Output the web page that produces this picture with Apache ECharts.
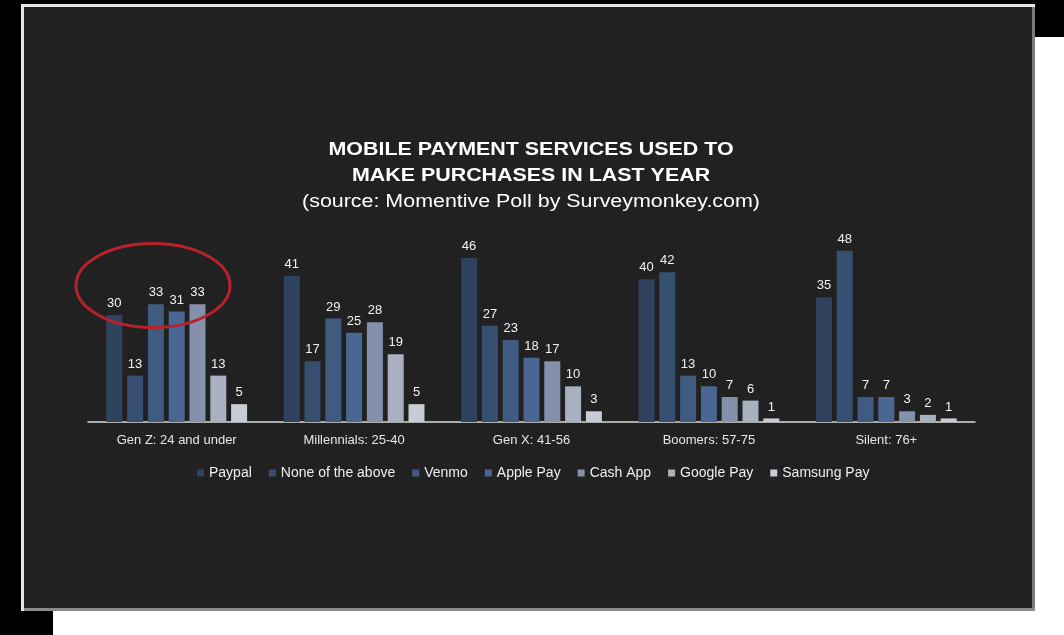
<!DOCTYPE html>
<html>
<head>
<meta charset="utf-8">
<script src="https://cdn.jsdelivr.net/npm/echarts@6/dist/echarts.min.js"></script>
<style>
  html, body { margin: 0; padding: 0; background: #ffffff; }
  #chart { width: 1064px; height: 635px; }
</style>
</head>
<body>
<div id="chart"></div>
<script>
const categories = ['Gen Z: 24 and under', 'Millennials: 25-40', 'Gen X: 41-56', 'Boomers: 57-75', 'Silent: 76+'];
const seriesNames = ['Paypal', 'None of the above', 'Venmo', 'Apple Pay', 'Cash App', 'Google Pay', 'Samsung Pay'];
const paypal = [30, 41, 46, 40, 35];
const noneOfTheAbove = [13, 17, 27, 42, 48];
const venmo = [33, 29, 23, 13, 7];
const applePay = [31, 25, 18, 10, 7];
const cashApp = [33, 28, 17, 7, 3];
const googlePay = [13, 19, 10, 6, 2];
const samsungPay = [5, 5, 3, 1, 1];
const titleLines = ['MOBILE PAYMENT SERVICES USED TO', 'MAKE PURCHASES IN LAST YEAR'];
const subtitle = '(source: Momentive Poll by Surveymonkey.com)';

const seriesData = [paypal, noneOfTheAbove, venmo, applePay, cashApp, googlePay, samsungPay];
const colors = ['#2f425e', '#374f70', '#405b80', '#4a6794', '#8591ab', '#a9b1c1', '#c8ccd5'];

const chart = echarts.init(document.getElementById('chart'), null, { renderer: 'canvas' });

const series = seriesNames.map((name, i) => ({
  name: name,
  type: 'bar',
  data: seriesData[i],
  barWidth: 16,
  barGap: '30%',
  itemStyle: { color: colors[i] },
  label: {
    show: true,
    position: 'top',
    distance: 5,
    color: '#f2f2f2',
    fontSize: 13,
    fontFamily: 'Liberation Sans, Arial, sans-serif'
  }
}));

const option = {
  backgroundColor: '#ffffff',
  animation: false,
  color: colors,
  graphic: [
    { type: 'rect', z: -20, shape: { x: 0, y: 0, width: 1064, height: 37 }, style: { fill: '#000000' } },
    { type: 'rect', z: -20, shape: { x: 0, y: 0, width: 53, height: 635 }, style: { fill: '#000000' } },
    { type: 'rect', z: -15, shape: { x: 21, y: 4, width: 1014, height: 607 }, style: { fill: '#e6e6e6' } },
    { type: 'rect', z: -14, shape: { x: 1032, y: 7, width: 3, height: 604 }, style: { fill: '#7a7a7a' } },
    { type: 'rect', z: -14, shape: { x: 24, y: 608, width: 1011, height: 3 }, style: { fill: '#8a8a8a' } },
    { type: 'rect', z: -13, shape: { x: 24, y: 7, width: 1008, height: 601 }, style: { fill: '#212121' } },
    {
      type: 'text', z: 10, x: 531, y: 150, scaleX: 1.19,
      style: { text: titleLines[0], fill: '#ffffff', font: 'bold 18px "Liberation Sans", Arial, sans-serif', textAlign: 'center', textVerticalAlign: 'middle' }
    },
    {
      type: 'text', z: 10, x: 531, y: 176, scaleX: 1.19,
      style: { text: titleLines[1], fill: '#ffffff', font: 'bold 18px "Liberation Sans", Arial, sans-serif', textAlign: 'center', textVerticalAlign: 'middle' }
    },
    {
      type: 'text', z: 10, x: 531, y: 202, scaleX: 1.19,
      style: { text: subtitle, fill: '#ffffff', font: '18px "Liberation Sans", Arial, sans-serif', textAlign: 'center', textVerticalAlign: 'middle' }
    },
    {
      type: 'ellipse', z: 100,
      shape: { cx: 153, cy: 285.5, rx: 77, ry: 42 },
      style: { fill: 'none', stroke: '#b8222a', lineWidth: 3 }
    }
  ],
  legend: {
    data: seriesNames,
    left: 192,
    top: 461,
    itemWidth: 7,
    itemHeight: 7,
    itemGap: 17,
    icon: 'rect',
    textStyle: { color: '#eeeeee', fontSize: 14, fontFamily: 'Liberation Sans, Arial, sans-serif' }
  },
  grid: { left: 88, right: 89, top: 208, bottom: 213, containLabel: false },
  xAxis: {
    type: 'category',
    data: categories,
    axisLine: { show: true, lineStyle: { color: '#d9d9d9', width: 1.5 } },
    axisTick: { show: false },
    axisLabel: { color: '#e6e6e6', fontSize: 13, margin: 12, fontFamily: 'Liberation Sans, Arial, sans-serif' },
    splitLine: { show: false }
  },
  yAxis: {
    type: 'value',
    min: 0,
    max: 60,
    show: false,
    splitLine: { show: false }
  },
  series: series
};

chart.setOption(option);
</script>
</body>
</html>
